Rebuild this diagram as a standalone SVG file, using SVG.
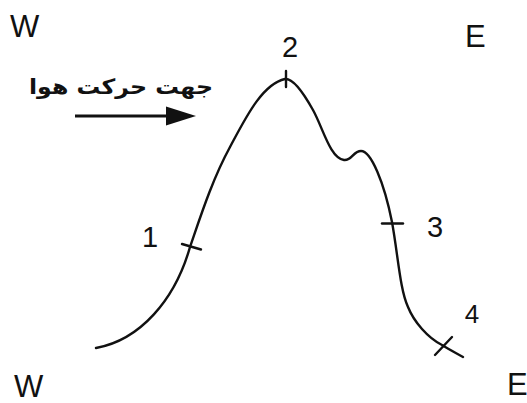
<svg xmlns="http://www.w3.org/2000/svg" width="527" height="403" viewBox="0 0 527 403">
  <style>
    .lbl { font-family: "Liberation Sans", Arial, sans-serif; fill: #111; }
    .big { font-size: 31px; }
    .num { font-size: 29px; text-anchor: middle; }
    .curve { fill: none; stroke: #111; stroke-width: 2.4; stroke-linecap: round; stroke-linejoin: round; }
    .tick { fill: none; stroke: #111; stroke-width: 2.4; stroke-linecap: round; }
    .fa { font-family: "DejaVu Sans", "Noto Sans", sans-serif; font-size: 21px; font-weight: bold; fill: #111; }
  </style>
  <rect width="527" height="403" fill="#ffffff"/>

  <g id="labels-compass">
    <text class="lbl big" x="10" y="37">W</text>
    <text class="lbl big" x="465" y="47">E</text>
    <text class="lbl big" x="14" y="397">W</text>
    <text class="lbl big" x="507" y="395">E</text>
  </g>

  <g id="wind">
    <text class="fa" x="121" y="94" text-anchor="middle" direction="rtl" textLength="184" lengthAdjust="spacingAndGlyphs">جهت حرکت هوا</text>
    <line x1="75" y1="116" x2="170" y2="116" stroke="#111" stroke-width="3.2"/>
    <polygon points="166,106.5 196,116 166,125.5" fill="#111"/>
  </g>

  <g id="connectors">
    <path id="profile" class="curve" d="M96,348 C140,340 175,300 190,247 C200,218 212,180 230,147 C245,119 262,84 285,79 C293,78 303,92 313,110 C323,128 330,158 344,160 C352,161 353,151 361,151 C371,151 384,182 392,222 C398,255 400,290 408,307 C414,322 428,338 442,345 C450,350 456,353 463,357"/>
  </g>

  <g id="point1">
    <line class="tick" x1="182" y1="244" x2="201" y2="249.5"/>
    <text class="lbl num" x="150" y="247">1</text>
  </g>
  <g id="point2">
    <line class="tick" x1="286" y1="71" x2="286" y2="87"/>
    <text class="lbl num" x="290" y="57">2</text>
  </g>
  <g id="point3">
    <line class="tick" x1="382" y1="223.5" x2="403" y2="223.5"/>
    <text class="lbl num" x="435" y="237">3</text>
  </g>
  <g id="point4">
    <line class="tick" x1="435" y1="355" x2="452" y2="337"/>
    <text class="lbl num" x="472" y="323" style="font-size:26px">4</text>
  </g>
</svg>
